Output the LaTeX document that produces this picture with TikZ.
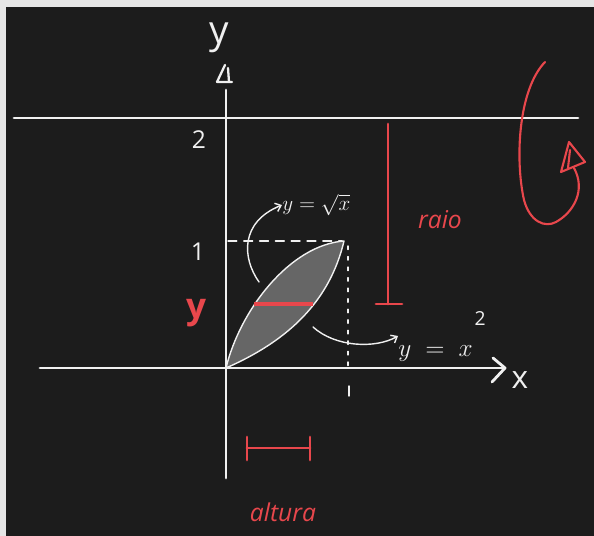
\documentclass[tikz,border=0pt]{standalone}
\usepackage{fontspec}
\setmainfont{Open Sans}
\usetikzlibrary{arrows.meta}
\definecolor{board}{HTML}{1C1C1C}
\definecolor{framegrey}{HTML}{E6E6E6}
\definecolor{chalkw}{HTML}{F0F0F0}
\definecolor{redc}{HTML}{E8474C}
\definecolor{leafc}{HTML}{666666}
\begin{document}
\begin{tikzpicture}[x=0.02cm,y=-0.02cm,
  chalk/.style={draw=chalkw, line width=1.6pt, line cap=round},
  thinchalk/.style={draw=chalkw, line width=0.8pt, line cap=round},
  redline/.style={draw=redc, line width=1.6pt, line cap=round},
  lbl/.style={text=chalkw, inner sep=0pt, font=\fontsize{14}{14}\selectfont},
  rlbl/.style={text=redc, inner sep=0pt, font=\itshape\fontsize{14}{14}\selectfont}]
\useasboundingbox (0,0) rectangle (594,536);
\fill[framegrey] (0,0) rectangle (594,536);
\fill[board] (6,7) rectangle (594,536);

% axes and line y=2
\coordinate (O) at (226,368);
\coordinate (ytop) at (226,90);
\coordinate (ybot) at (226,478);
\coordinate (xl) at (40,368);
\coordinate (xr) at (505,368);
\coordinate (l2a) at (14,118);
\coordinate (l2b) at (578,118);
\draw[chalk] (xl) -- (xr);
\draw[chalk] (ytop) -- (ybot);
\draw[chalk] (l2a) -- (l2b);
\draw[chalk, line join=round] (493,358) -- (xr) -- (492,382);
\draw[chalk, line width=1.3pt, line join=round] (225,65) -- (217,82) -- (232,82);
\draw[chalk, line width=1.3pt] (228,68) -- (229,82);

% leaf region (between y = x^2 and y = sqrt x)
\coordinate (P) at (344,241);
\filldraw[fill=leafc, thinchalk, line join=round] (O) .. controls (240,310) and (290,245) .. (P)
   .. controls (330,300) and (290,340) .. (O) -- cycle;
\coordinate (sa) at (254,304);
\coordinate (sb) at (313,304);
\draw[redc, line width=2.8pt] (sa) -- (sb);

% dashed guides
\draw[thinchalk, dash pattern=on 5pt off 4pt] (228,241) -- (342,241);
\draw[thinchalk, dash pattern=on 2pt off 4pt] (348,246) -- (348,366);
\draw[thinchalk] (349,386) -- (349,396);

% labels
\node[lbl, font=\fontsize{22}{22}\selectfont] (ylab) at (219,38) {y};
\node[lbl] (two) at (199,140) {2};
\node[lbl] (one) at (198,252) {1};
\node[lbl, font=\fontsize{18}{18}\selectfont] (xlab) at (520,380) {x};
\node[lbl, anchor=west, font=\fontsize{12}{12}\selectfont] (sq) at (282,205) {$y=\sqrt{x}$};
\node[lbl, anchor=west, font=\fontsize{15}{15}\selectfont] (sq2) at (398,336) {$y \;=\; x$\hspace{1pt}\raisebox{2.2ex}{\fontsize{11}{11}\selectfont 2}};

\coordinate (sqs) at (259,282);
\draw[thinchalk, -{Straight Barb[length=3pt,width=5pt]}] (sqs) .. controls (242,258) and (240,222) .. (sq.west);
\coordinate (x2s) at (313,327);
\draw[thinchalk, -{Straight Barb[length=3pt,width=5pt]}] (x2s) .. controls (335,347) and (375,349) .. (sq2.west);

% radius
\coordinate (rt) at (388,124);
\coordinate (rb) at (388,304);
\draw[redline] (rt) -- (rb);
\draw[redline] (376,304) -- (402,304);
\node[rlbl] (raio) at (440,220) {raio};

% red y
\node[rlbl, font=\bfseries\fontsize{20}{20}\selectfont] (ry) at (196,313) {y};

% altura
\draw[redline] (247,448) -- (310,448);
\draw[redline] (247,437) -- (247,460);
\draw[redline] (310,437) -- (310,460);
\node[rlbl] (alt) at (283,512) {altura};

% rotation arrow
\draw[redline, line width=1.2pt] (545,62) .. controls (518,90) and (515,160) .. (524,200) .. controls (530,222) and (545,228) .. (556,222) .. controls (574,212) and (586,190) .. (574,168);
\draw[redline, line width=1.2pt, line join=round] (569,142) -- (561,172) -- (585,162) -- cycle;
\draw[redline, line width=1.2pt] (570,150) -- (568,168);
\end{tikzpicture}
\end{document}
